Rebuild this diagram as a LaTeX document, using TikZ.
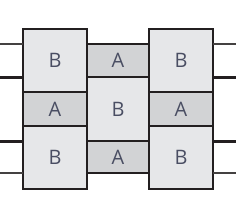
\documentclass[tikz,border=0pt]{standalone}
\usepackage{fontspec}
\setmainfont{Open Sans}
\definecolor{bfill}{HTML}{E6E7E9}
\definecolor{afill}{HTML}{D2D3D5}
\definecolor{edge}{HTML}{231F20}
\definecolor{txt}{HTML}{4A4E63}
\begin{document}
\begin{tikzpicture}[x=1bp,y=-1bp,
  cell/.style={draw=edge,line width=2.8bp,inner sep=0pt,outer sep=0pt,text=txt,font=\fontsize{20}{20}\selectfont},
  bcell/.style={cell,fill=bfill},
  acell/.style={cell,fill=afill},
  thinwire/.style={draw=edge!85,line width=1.8bp},
  thickwire/.style={draw=edge,line width=3bp}]
\useasboundingbox (0,0) rectangle (236,216);
% wire ends
\coordinate (l1) at (0,44);
\coordinate (l2) at (0,77);
\coordinate (l3) at (0,141);
\coordinate (l4) at (0,173);
\coordinate (r1) at (236,44);
\coordinate (r2) at (236,77);
\coordinate (r3) at (236,141);
\coordinate (r4) at (236,173);
% cells
\node[bcell,minimum width=64bp,minimum height=63bp] (b11) at (55,60.5) {B};
\node[acell,minimum width=64bp,minimum height=34bp] (a12) at (55,109) {A};
\node[bcell,minimum width=64bp,minimum height=63bp] (b13) at (55,157.5) {B};
\node[acell,minimum width=62bp,minimum height=33bp] (a21) at (118,60.5) {A};
\node[bcell,minimum width=62bp,minimum height=64bp] (b22) at (118,109) {B};
\node[acell,minimum width=62bp,minimum height=32bp] (a23) at (118,157) {A};
\node[bcell,minimum width=64bp,minimum height=63bp] (b31) at (181,60.5) {B};
\node[acell,minimum width=64bp,minimum height=34bp] (a32) at (181,109) {A};
\node[bcell,minimum width=64bp,minimum height=63bp] (b33) at (181,157.5) {B};
% wires
\draw[thinwire] (l1) -- (b11.west |- l1);
\draw[thickwire] (l2) -- (b11.west |- l2);
\draw[thickwire] (l3) -- (b13.west |- l3);
\draw[thinwire] (l4) -- (b13.west |- l4);
\draw[thinwire] (r1) -- (b31.east |- r1);
\draw[thickwire] (r2) -- (b31.east |- r2);
\draw[thickwire] (r3) -- (b33.east |- r3);
\draw[thinwire] (r4) -- (b33.east |- r4);
\end{tikzpicture}
\end{document}
